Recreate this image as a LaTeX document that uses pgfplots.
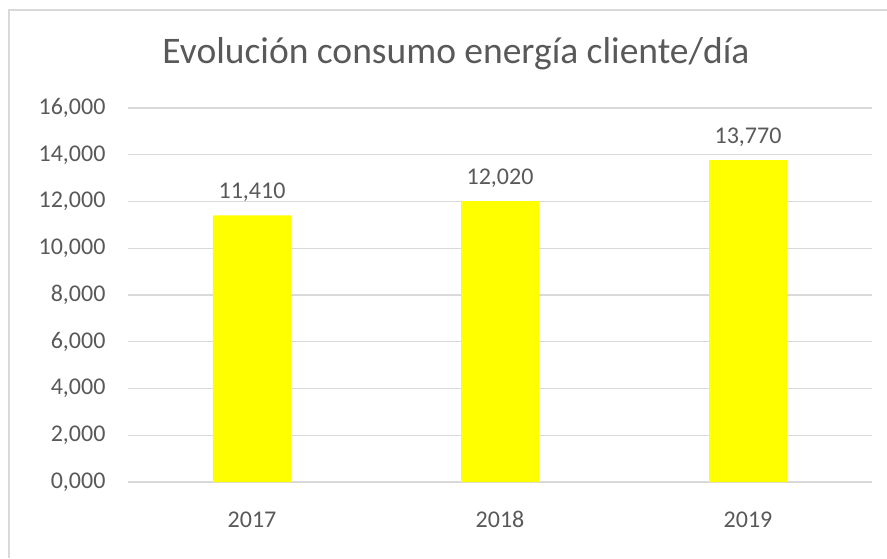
\documentclass[border=0pt]{standalone}
\usepackage{pgfplots}
\pgfplotsset{compat=1.18}
\usepackage{fontspec}
\setmainfont{Carlito}
\definecolor{txt}{HTML}{595959}
\definecolor{grd}{HTML}{D9D9D9}
\definecolor{bary}{HTML}{FFFF00}
\begin{document}
\begin{tikzpicture}
\begin{axis}[
  at={(0pt,0pt)}, anchor=south west,
  scale only axis, width=744pt, height=374pt,
  xmin=-0.5, xmax=2.5, ymin=0, ymax=16,
  xtick={0,1,2}, xticklabels={2017,2018,2019},
  ytick={0,2,...,16},
  axis line style={draw=none},
  ymajorgrids, grid style={grd, line width=1.2pt},
  major tick length=0pt,
  tick style={draw=none},
  tick label style={text=txt, font=\fontsize{24}{29}\selectfont},
  /pgf/number format/assume math mode=true,
  /pgf/number format/fixed,
  /pgf/number format/fixed zerofill,
  /pgf/number format/precision=3,
  /pgf/number format/use comma,
  /pgf/number format/1000 sep={},
  xticklabel style={yshift=-26pt},
  yticklabel style={xshift=-19pt},
  ybar, bar width=78pt,
  nodes near coords,
  nodes near coords style={text=txt, font=\fontsize{24}{29}\selectfont, yshift=10pt},
  clip=false,
]
\addplot[fill=bary, draw=none] coordinates {(0,11.41) (1,12.02) (2,13.77)};
\end{axis}
\useasboundingbox (-128pt,-76pt) rectangle (759pt,482pt);
\draw[grd, line width=1.6pt] (-119pt,-76pt) -- (-119pt,472pt) -- (759pt,472pt);
\node[text=txt, font=\fontsize{37.5}{45}\selectfont] at (328pt,428pt) {Evolución consumo energía cliente/día};
\end{tikzpicture}
\end{document}
